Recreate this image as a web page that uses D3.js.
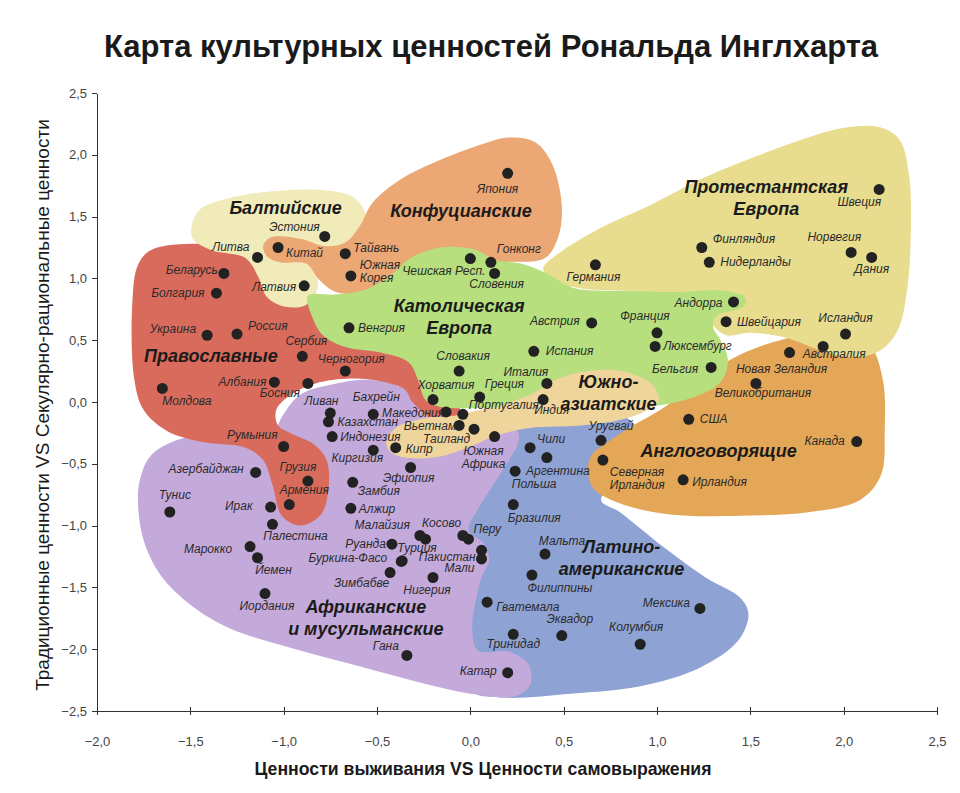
<!DOCTYPE html>
<html lang="ru">
<head>
<meta charset="utf-8">
<title>Карта культурных ценностей Рональда Инглхарта</title>
<script src="https://cdn.jsdelivr.net/npm/d3@7"></script>
<style>
body {
  margin: 0;
  background: #fff;
  font-family: 'Liberation Sans', Arial, sans-serif;
}
.title { font-size: 31px; font-weight: bold; fill: #1a1a1a; }
.axis path, .axis line { stroke: #333; shape-rendering: crispEdges; }
.axis text { font-size: 13px; fill: #444; font-family: 'Liberation Sans Narrow', 'Liberation Sans', sans-serif; }
.axis-label { font-size: 19px; fill: #1a1a1a; }
.x-label { font-family: 'Liberation Sans Narrow', 'Liberation Sans', sans-serif; font-weight: bold; }
.country { font-size: 12px; font-style: italic; fill: #2b2b2b; }
.group { font-size: 18px; font-weight: bold; font-style: italic; fill: #1b1b1b; }
.dot { fill: #222; }
</style>
</head>
<body>
<div id="chart"></div>
<script>

var W = 960, H = 793;

// ---- data -------------------------------------------------------------
var countryNames = ["Швеция","Норвегия","Дания","Финляндия","Нидерланды","Германия","Андорра","Швейцария",
  "Исландия","Австралия","Новая Зеландия","Великобритания","США","Канада","Ирландия","Северная\nИрландия",
  "Уругвай","Бельгия","Люксембург","Франция","Австрия","Испания","Италия","Индия","Греция","Португалия",
  "Хорватия","Македония","Вьетнам","Таиланд","Южная\nАфрика","Польша","Чили","Аргентина","Бразилия","Мальта",
  "Филиппины","Гватемала","Тринидад","Эквадор","Катар","Колумбия","Мексика","Перу","","Пакистан","Мали",
  "Нигерия","Косово","Малайзия","Руанда","Турция","Буркина-Фасо","Зимбабве","Гана","Алжир","Замбия","Эфиопия",
  "Киргизия","Кипр","Бахрейн","Ливан","Казахстан","Индонезия","Румыния","Азербайджан","Грузия","Армения",
  "Ирак","Палестина","Тунис","Марокко","Йемен","Иордания","Молдова","Албания","Босния","Сербия","Черногория",
  "Украина","Россия","Беларусь","Болгария","Литва","Китай","Эстония","Латвия","Тайвань","Южная\nКорея",
  "Венгрия","Япония","Чешская Респ.","Гонконг","Словения","Словакия"];

// survival (-) vs self-expression (+)
var selfExpression = [2.19,2.04,2.15,1.24,1.28,0.67,1.41,1.37,
  2.01,1.89,1.71,1.53,1.17,2.07,1.14,0.71,
  0.70,1.29,0.99,1.00,0.65,0.34,0.41,0.39,0.05,-0.04,
  -0.20,-0.13,-0.06,0.02,0.13,0.24,0.32,0.41,0.23,0.40,
  0.33,0.09,0.23,0.49,0.20,0.91,1.23,-0.01,-0.04,0.06,0.06,
  -0.20,-0.24,-0.27,-0.42,-0.365,-0.37,-0.43,-0.34,-0.64,-0.63,-0.32,
  -0.52,-0.40,-0.52,-0.75,-0.76,-0.74,-1.00,-1.15,-0.87,-0.97,
  -1.07,-1.06,-1.61,-1.18,-1.14,-1.10,-1.65,-1.05,-0.87,-0.90,-0.67,
  -1.41,-1.25,-1.32,-1.36,-1.14,-1.03,-0.78,-0.89,-0.67,-0.64,
  -0.65,0.20,0.00,0.11,0.13,-0.06];

// traditional (-) vs secular-rational (+)
var secularRational = [1.72,1.21,1.17,1.25,1.13,1.11,0.81,0.65,
  0.55,0.45,0.40,0.15,-0.14,-0.32,-0.63,-0.47,
  -0.31,0.28,0.45,0.56,0.64,0.41,0.15,0.02,0.04,-0.10,
  0.02,-0.08,-0.19,-0.22,-0.28,-0.56,-0.37,-0.45,-0.83,-1.23,
  -1.40,-1.62,-1.88,-1.89,-2.19,-1.96,-1.67,-1.11,-1.08,-1.20,-1.27,
  -1.42,-1.11,-1.08,-1.15,-1.285,-1.29,-1.38,-2.05,-0.86,-0.65,-0.53,
  -0.39,-0.37,-0.10,-0.09,-0.16,-0.28,-0.36,-0.57,-0.64,-0.83,
  -0.85,-0.99,-0.89,-1.17,-1.26,-1.55,0.11,0.16,0.15,0.37,0.25,
  0.54,0.55,1.04,0.88,1.17,1.25,1.34,0.94,1.20,1.02,
  0.60,1.85,1.16,1.13,1.04,0.25];

// cultural zones, in drawing order (bottom first)
var zoneNames = ["Латино-\nамериканские","Англоговорящие","Протестантская\nЕвропа",
  "Африканские\nи мусульманские","Православные","Балтийские","Конфуцианские",
  "Католическая\nЕвропа","Южно-\nазиатские"];

// zone outlines, in chart units [x, y]
var latinOutline = [[0.19,-0.23],[0.48,-0.13],[0.86,-0.15],[0.91,-0.47],[0.70,-0.79],[0.80,-0.89],
  [1.04,-1.18],[1.26,-1.42],[1.45,-1.59],[1.49,-1.72],[1.435,-1.93],[1.23,-2.15],[0.91,-2.30],
  [0.54,-2.36],[0.16,-2.39],[0,-2.33],[-0.05,-1.76],[-0.05,-1.12],[0.05,-0.63]];
var englishOutline = [[0.63,-0.55],[0.65,-0.43],[0.75,-0.31],[0.86,-0.20],[0.99,-0.09],[1.18,0.11],
  [1.39,0.34],[1.66,0.50],[1.98,0.57],[2.14,0.46],[2.21,0.18],[2.22,-0.23],[2.20,-0.59],[2.09,-0.79],
  [1.82,-0.89],[1.45,-0.92],[1.07,-0.91],[0.80,-0.82],[0.66,-0.70]];
var protestantOutline = [[0.39,1.08],[0.48,1.21],[0.70,1.41],[0.96,1.59],[1.23,1.80],[1.50,1.97],
  [1.77,2.12],[2.01,2.22],[2.20,2.22],[2.30,2.12],[2.35,1.84],[2.36,1.39],[2.34,0.91],[2.29,0.58],
  [2.20,0.42],[2.06,0.36],[1.875,0.42],[1.69,0.52],[1.50,0.56],[1.37,0.54],[1.30,0.62],[1.23,0.78],
  [0.91,0.89],[0.59,0.92],[0.44,0.99]];
var africanOutline = [[-1.77,-0.63],[-1.71,-0.43],[-1.53,-0.29],[-1.29,-0.28],[-1.07,-0.35],[-1.02,-0.15],
  [-0.91,0.06],[-0.75,0.14],[-0.54,0.18],[-0.35,0.11],[-0.24,-0.02],[0,-0.19],[0.24,-0.21],[0.26,-0.31],
  [0.19,-0.51],[0.11,-0.70],[0.04,-0.87],[-0.01,-1.04],[0.07,-1.14],[0.10,-1.28],[0.06,-1.42],[0.03,-1.60],
  [0.01,-1.83],[0.04,-2.01],[0.21,-2.02],[0.31,-2.12],[0.32,-2.29],[0.24,-2.38],[0,-2.36],[-0.27,-2.27],
  [-0.59,-2.14],[-0.96,-1.99],[-1.29,-1.83],[-1.50,-1.64],[-1.66,-1.40],[-1.75,-1.12],[-1.78,-0.83]];
var orthodoxOutline = [[-1.71,1.23],[-1.45,1.28],[-1.125,1.23],[-0.91,1.03],[-0.80,0.825],[-0.48,0.50],
  [-0.21,0.18],[-0.06,0],[-0.07,-0.11],[-0.20,-0.13],[-0.31,0],[-0.35,0.10],[-0.455,0.16],[-0.64,0.19],
  [-0.83,0.15],[-0.96,0.06],[-1.04,-0.065],[-1.03,-0.19],[-0.95,-0.26],[-0.84,-0.34],[-0.77,-0.47],
  [-0.76,-0.71],[-0.80,-0.91],[-0.91,-1.00],[-1.01,-0.92],[-1.06,-0.67],[-1.11,-0.47],[-1.205,-0.37],
  [-1.45,-0.32],[-1.63,-0.23],[-1.75,-0.065],[-1.80,0.18],[-1.81,0.825],[-1.78,1.11]];
var balticOutline = [[-1.49,1.33],[-1.46,1.54],[-1.29,1.65],[-1.02,1.71],[-0.75,1.71],[-0.62,1.65],
  [-0.56,1.51],[-0.59,1.31],[-0.72,1.165],[-0.81,1.07],[-0.82,0.91],[-0.88,0.785],[-0.99,0.77],
  [-1.09,0.85],[-1.135,1.01],[-1.205,1.165],[-1.39,1.23]];
var confucianOutline = [[-1.11,1.26],[-1.07,1.33],[-0.91,1.32],[-0.78,1.26],[-0.67,1.29],[-0.59,1.43],
  [-0.525,1.61],[-0.375,1.80],[-0.16,1.96],[0.05,2.08],[0.21,2.14],[0.35,2.10],[0.44,1.92],[0.49,1.59],
  [0.47,1.33],[0.40,1.165],[0.16,1.13],[-0.21,1.08],[-0.43,0.97],[-0.59,0.88],[-0.72,0.89],[-0.81,0.99],
  [-0.88,1.12],[-1.02,1.13],[-1.09,1.18]];
var catholicOutline = [[-0.87,0.86],[-0.72,0.87],[-0.56,0.91],[-0.43,1.02],[-0.32,1.165],[-0.16,1.25],
  [0.03,1.23],[0.13,1.15],[0.27,1.12],[0.41,1.04],[0.56,0.92],[0.83,0.90],[1.10,0.89],[1.35,0.90],
  [1.47,0.85],[1.47,0.78],[1.41,0.74],[1.32,0.70],[1.30,0.61],[1.34,0.50],[1.38,0.34],[1.34,0.16],
  [1.18,0.03],[0.91,-0.05],[0.70,-0.08],[0.375,-0.105],[0.16,-0.05],[-0.05,-0.05],[-0.16,-0.04],
  [-0.24,0.016],[-0.28,0.18],[-0.33,0.32],[-0.48,0.40],[-0.67,0.445],[-0.79,0.54],[-0.85,0.70]];
var southAsianOutline = [[-0.45,-0.33],[-0.40,-0.21],[-0.24,-0.13],[-0.08,-0.11],[0,-0.08],[0.16,-0.03],
  [0.35,0.08],[0.455,0.18],[0.59,0.24],[0.75,0.26],[0.88,0.22],[0.975,0.14],[1.01,0.016],[0.95,-0.065],
  [0.80,-0.146],[0.59,-0.19],[0.32,-0.21],[0.13,-0.275],[0,-0.36],[-0.16,-0.44],[-0.35,-0.45],[-0.43,-0.40]];

var zoneOutlines = [latinOutline, englishOutline, protestantOutline, africanOutline, orthodoxOutline,
  balticOutline, confucianOutline, catholicOutline, southAsianOutline];

// where each zone name sits, chart units
var zoneLabelX = [0.81, 1.33, 1.585, -0.56, -1.39, -0.99, -0.05, -0.06, 0.74];
var zoneLabelY = [-1.22, -0.445, 1.69, -1.71, 0.32, 1.52, 1.50, 0.73, 0.11];

var xTicks = [-2, -1.5, -1, -0.5, 0, 0.5, 1, 1.5, 2, 2.5];
var yTicks = [-2.5, -2, -1.5, -1, -0.5, 0, 0.5, 1, 1.5, 2, 2.5];

// ---- look -------------------------------------------------------------
var zoneColors = ["#8fa2d4", "#e4a757", "#e8dd8f", "#c4a9db", "#d96b5c",
                  "#f1eab9", "#eba774", "#b7df7e", "#efd59c"];

// label offsets from the dot: [dx, dy, anchor]
var labelPlace = {
  "Швеция":[2,17,"end"], "Норвегия":[10,-11,"end"], "Дания":[0,16,"middle"],
  "Финляндия":[11,-5,"start"], "Нидерланды":[11,4,"start"], "Германия":[-2,16,"middle"],
  "Андорра":[-11,5,"end"], "Швейцария":[11,4,"start"], "Исландия":[0,-12,"middle"],
  "Австралия":[11,12,"middle"], "Новая Зеландия":[-8,20,"middle"], "Великобритания":[7,14,"middle"],
  "США":[11,4,"start"], "Канада":[-12,3,"end"], "Ирландия":[9,6,"start"],
  "Северная\nИрландия":[7,16,"start"], "Уругвай":[10,-10,"middle"], "Бельгия":[-13,6,"end"],
  "Люксембург":[8,4,"start"], "Франция":[-12,-13,"middle"], "Австрия":[-12,2,"end"],
  "Испания":[12,4,"start"], "Италия":[-21,-7,"middle"], "Индия":[-9,14,"start"],
  "Греция":[5,-9,"start"], "Португалия":[6,-5,"start"], "Хорватия":[13,-11,"middle"],
  "Македония":[-2,5,"end"], "Вьетнам":[-3,5,"end"], "Таиланд":[-4,14,"end"],
  "Южная\nАфрика":[-11,18,"middle"], "Польша":[19,17,"middle"], "Чили":[7,-5,"start"],
  "Аргентина":[11,17,"middle"], "Бразилия":[21,17,"middle"], "Мальта":[17,-9,"middle"],
  "Филиппины":[28,17,"middle"], "Гватемала":[9,9,"start"], "Тринидад":[0,14,"middle"],
  "Эквадор":[8,-13,"middle"], "Катар":[-11,2,"end"], "Колумбия":[-4,-13,"middle"],
  "Мексика":[-10,-1,"end"], "Перу":[5,-6,"start"], "Пакистан":[-6,11,"end"],
  "Мали":[-7,13,"end"], "Нигерия":[-6,16,"middle"], "Косово":[16,-12,"middle"],
  "Малайзия":[-10,-6,"end"], "Руанда":[-6,4,"end"], "Турция":[-5,-9,"start"],
  "Буркина-Фасо":[-14,1,"end"], "Зимбабве":[-1,14,"end"], "Гана":[-8,-5,"end"],
  "Алжир":[8,5,"start"], "Замбия":[5,13,"start"], "Эфиопия":[-2,14,"middle"],
  "Киргизия":[-16,12,"middle"], "Кипр":[10,5,"start"], "Бахрейн":[3,-13,"middle"],
  "Ливан":[-9,-8,"middle"], "Казахстан":[9,4,"start"], "Индонезия":[8,4,"start"],
  "Румыния":[-6,-7,"end"], "Азербайджан":[-12,1,"end"], "Грузия":[-10,-10,"middle"],
  "Армения":[15,-11,"middle"], "Ирак":[-18,3,"end"], "Палестина":[23,16,"middle"],
  "Тунис":[5,-13,"middle"], "Марокко":[-18,6,"end"], "Йемен":[16,16,"middle"],
  "Иордания":[2,16,"middle"], "Молдова":[0,17,"start"], "Албания":[-8,4,"end"],
  "Босния":[-8,14,"end"], "Сербия":[4,-11,"middle"], "Черногория":[6,-8,"middle"],
  "Украина":[-11,-2,"end"], "Россия":[11,-4,"start"], "Беларусь":[-6,1,"end"],
  "Болгария":[-12,4,"end"], "Литва":[-8,-6,"end"], "Китай":[8,9,"start"],
  "Эстония":[-5,-5,"end"], "Латвия":[-8,5,"end"], "Тайвань":[8,-2,"start"],
  "Южная\nКорея":[9,-7,"start"], "Венгрия":[9,4,"start"], "Япония":[-10,20,"middle"],
  "Чешская Респ.":[15,16,"end"], "Гонконг":[6,-9,"start"], "Словения":[2,15,"middle"],
  "Словакия":[4,-11,"middle"]
};

// ---- chart ------------------------------------------------------------
var x = d3.scaleLinear().domain([-2, 2.5]).range([97, 937]);
var y = d3.scaleLinear().domain([-2.5, 2.5]).range([711, 93]);

var svg = d3.select("#chart").append("svg")
  .attr("width", W)
  .attr("height", H);

svg.append("text")
  .attr("class", "title")
  .attr("x", 491)
  .attr("y", 57)
  .attr("text-anchor", "middle")
  .text("Карта культурных ценностей Рональда Инглхарта");

var blob = d3.line()
  .x(function(d){ return x(d[0]); })
  .y(function(d){ return y(d[1]); })
  .curve(d3.curveCatmullRomClosed.alpha(0.5));

svg.append("g").selectAll("path")
  .data(zoneOutlines)
  .enter().append("path")
  .attr("d", blob)
  .attr("fill", function(d, i){ return zoneColors[i]; });

var fmt = function(d){ return d3.format(".1f")(d).replace(".", ","); };

svg.append("g")
  .attr("class", "axis")
  .attr("transform", "translate(" + x(-2) + ",0)")
  .call(d3.axisLeft(y).tickValues(yTicks).tickFormat(fmt).tickSize(5).tickSizeOuter(0).tickPadding(5));

var xAxis = svg.append("g")
  .attr("class", "axis")
  .attr("transform", "translate(0," + y(-2.5) + ")")
  .call(d3.axisBottom(x).tickValues(xTicks).tickFormat(fmt).tickSize(4).tickSizeOuter(0).tickPadding(22));
xAxis.selectAll(".tick line").attr("y1", -4);

// country dots and labels
var pts = countryNames.map(function(n, i){
  return { name: n, sx: selfExpression[i], sy: secularRational[i] };
});

svg.append("g").selectAll("circle")
  .data(pts)
  .enter().append("circle")
  .attr("class", "dot")
  .attr("cx", function(d){ return x(d.sx); })
  .attr("cy", function(d){ return y(d.sy); })
  .attr("r", 5.5);

var labels = svg.append("g").selectAll("text")
  .data(pts.filter(function(d){ return d.name !== ""; }))
  .enter().append("text")
  .attr("class", "country")
  .attr("text-anchor", function(d){ return labelPlace[d.name][2]; })
  .attr("transform", function(d){
    var p = labelPlace[d.name];
    return "translate(" + (x(d.sx) + p[0]) + "," + (y(d.sy) + p[1]) + ")";
  });

labels.selectAll("tspan")
  .data(function(d){ return d.name.split("\n"); })
  .enter().append("tspan")
  .attr("x", 0)
  .attr("dy", function(d, i){ return i ? 13 : 0; })
  .text(function(d){ return d; });

// zone names
var zl = svg.append("g").selectAll("text")
  .data(zoneNames)
  .enter().append("text")
  .attr("class", "group")
  .attr("text-anchor", "middle")
  .attr("transform", function(d, i){
    return "translate(" + x(zoneLabelX[i]) + "," + y(zoneLabelY[i]) + ")";
  });

zl.selectAll("tspan")
  .data(function(d){ return d.split("\n"); })
  .enter().append("tspan")
  .attr("x", 0)
  .attr("dy", function(d, i){ return i ? 22 : 0; })
  .text(function(d){ return d; });

// axis titles
svg.append("text")
  .attr("class", "axis-label x-label")
  .attr("x", 483)
  .attr("y", 775)
  .attr("text-anchor", "middle")
  .attr("textLength", 457)
  .attr("lengthAdjust", "spacingAndGlyphs")
  .text("Ценности выживания VS Ценности самовыражения");

svg.append("text")
  .attr("class", "axis-label")
  .attr("transform", "translate(49,405) rotate(-90)")
  .attr("text-anchor", "middle")
  .text("Традиционные ценности VS Секулярно-рациональные ценности");

</script>
</body>
</html>
